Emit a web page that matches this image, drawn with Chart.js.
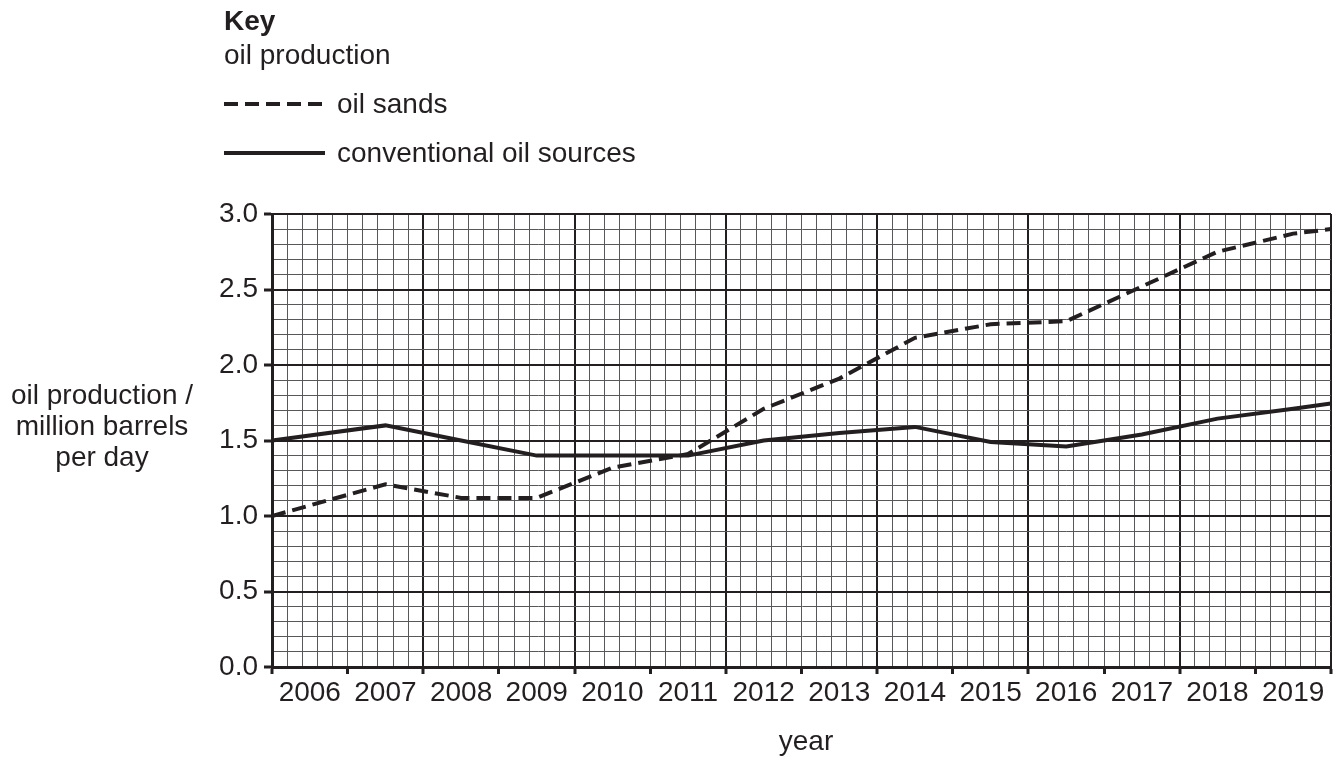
<!DOCTYPE html>
<html>
<head>
<meta charset="utf-8">
<title>Oil production</title>
<script src="https://cdn.jsdelivr.net/npm/chart.js@4.4.1/dist/chart.umd.min.js"></script>
<style>
  html, body { margin: 0; padding: 0; background: #fff; }
  canvas { display: block; }
</style>
</head>
<body>
<canvas id="oilChart" width="1338" height="760"></canvas>
<script>
// Data (x = position along the year axis, in years)
const yearPositions = [2006.0, 2007.5, 2008.5, 2009.5, 2010.5, 2011.5, 2012.5, 2013.5, 2014.5, 2015.5, 2016.5, 2017.5, 2018.5, 2019.5, 2020.0];
const oilSands = [1.00, 1.21, 1.12, 1.12, 1.32, 1.41, 1.71, 1.91, 2.18, 2.27, 2.29, 2.52, 2.75, 2.87, 2.90];
const conventional = [1.50, 1.60, 1.50, 1.40, 1.40, 1.40, 1.50, 1.55, 1.59, 1.49, 1.46, 1.54, 1.645, 1.71, 1.745];

const yearLabels = ['2006', '2007', '2008', '2009', '2010', '2011', '2012', '2013', '2014', '2015', '2016', '2017', '2018', '2019'];
const yTickLabels = ['0.0', '0.5', '1.0', '1.5', '2.0', '2.5', '3.0'];

const INK = '#231f20';
const MINOR = '#58585a';
const FONT = '"Liberation Sans", Arial, Helvetica, sans-serif';

const toPoints = (values) => values.map((v, i) => ({ x: yearPositions[i], y: v }));

// helpers for tick classes
const tenths = (v) => Math.round(v * 10);
const isYear = (v) => tenths(v) % 10 === 0;
const isEvenYear = (v) => tenths(v - 2006) % 20 === 0;
const isHalfUnit = (v) => tenths(v) % 5 === 0;

// Key and axis titles
const annotations = {
    id: 'annotations',
    afterDraw(chart) {
        const ctx = chart.ctx;
        ctx.save();
        ctx.fillStyle = INK;
        ctx.strokeStyle = INK;
        ctx.textBaseline = 'alphabetic';
        ctx.textAlign = 'left';

        ctx.font = `bold 28px ${FONT}`;
        ctx.fillText('Key', 224, 30);
        ctx.font = `28px ${FONT}`;
        ctx.fillText('oil production', 224, 64);

        // key samples
        ctx.lineWidth = 4;
        ctx.setLineDash([14, 7]);
        ctx.beginPath();
        ctx.moveTo(224, 104);
        ctx.lineTo(325, 104);
        ctx.stroke();
        ctx.setLineDash([]);
        ctx.beginPath();
        ctx.moveTo(224, 153);
        ctx.lineTo(325, 153);
        ctx.stroke();

        ctx.fillText('oil sands', 337, 113);
        ctx.fillText('conventional oil sources', 337, 162);

        // y axis title
        ctx.textAlign = 'center';
        ctx.fillText('oil production /', 102, 404);
        ctx.fillText('million barrels', 102, 435);
        ctx.fillText('per day', 102, 466);

        // x axis title
        ctx.fillText('year', 806, 750);
        ctx.restore();
    }
};

const ctx = document.getElementById('oilChart').getContext('2d');

new Chart(ctx, {
    type: 'line',
    data: {
        datasets: [
            {
                label: 'oil sands',
                data: toPoints(oilSands),
                borderColor: INK,
                borderWidth: 4,
                borderDash: [14, 7],
                pointRadius: 0,
                tension: 0,
                fill: false
            },
            {
                label: 'conventional oil sources',
                data: toPoints(conventional),
                borderColor: INK,
                borderWidth: 4,
                pointRadius: 0,
                tension: 0,
                fill: false
            }
        ]
    },
    options: {
        responsive: false,
        animation: false,
        devicePixelRatio: 1,
        layout: {
            padding: { top: 214, right: 7, bottom: 0, left: 0 }
        },
        plugins: {
            legend: { display: false },
            tooltip: { enabled: false }
        },
        scales: {
            x: {
                type: 'linear',
                min: 2006,
                max: 2020,
                afterFit: (scale) => { scale.height = 93; },
                border: { color: INK, width: 3 },
                grid: {
                    color: (c) => isEvenYear(c.tick.value) ? INK : MINOR,
                    lineWidth: (c) => isEvenYear(c.tick.value) ? 2 : 1,
                    tickColor: (c) => isYear(c.tick.value) ? INK : 'rgba(0,0,0,0)',
                    tickWidth: 3,
                    tickLength: 7
                },
                ticks: {
                    stepSize: 0.2,
                    maxTicksLimit: 200,
                    autoSkip: false,
                    maxRotation: 0,
                    minRotation: 0,
                    labelOffset: 37.8,
                    padding: 2,
                    color: INK,
                    font: { family: FONT, size: 28 },
                    callback: (value) => {
                        if (!isYear(value)) return '';
                        const i = Math.round(value) - 2006;
                        return yearLabels[i] ?? '';
                    }
                }
            },
            y: {
                type: 'linear',
                min: 0,
                max: 3,
                afterFit: (scale) => { scale.width = 272; },
                border: { color: INK, width: 3 },
                grid: {
                    color: (c) => isHalfUnit(c.tick.value) ? INK : MINOR,
                    lineWidth: (c) => isHalfUnit(c.tick.value) ? 2 : 1,
                    tickColor: (c) => isHalfUnit(c.tick.value) ? INK : 'rgba(0,0,0,0)',
                    tickWidth: 3,
                    tickLength: 8
                },
                ticks: {
                    stepSize: 0.1,
                    maxTicksLimit: 100,
                    autoSkip: false,
                    padding: 6,
                    color: INK,
                    font: { family: FONT, size: 28 },
                    callback: (value) => isHalfUnit(value) ? yTickLabels[tenths(value) / 5] : ''
                }
            }
        }
    },
    plugins: [annotations]
});
</script>
</body>
</html>
